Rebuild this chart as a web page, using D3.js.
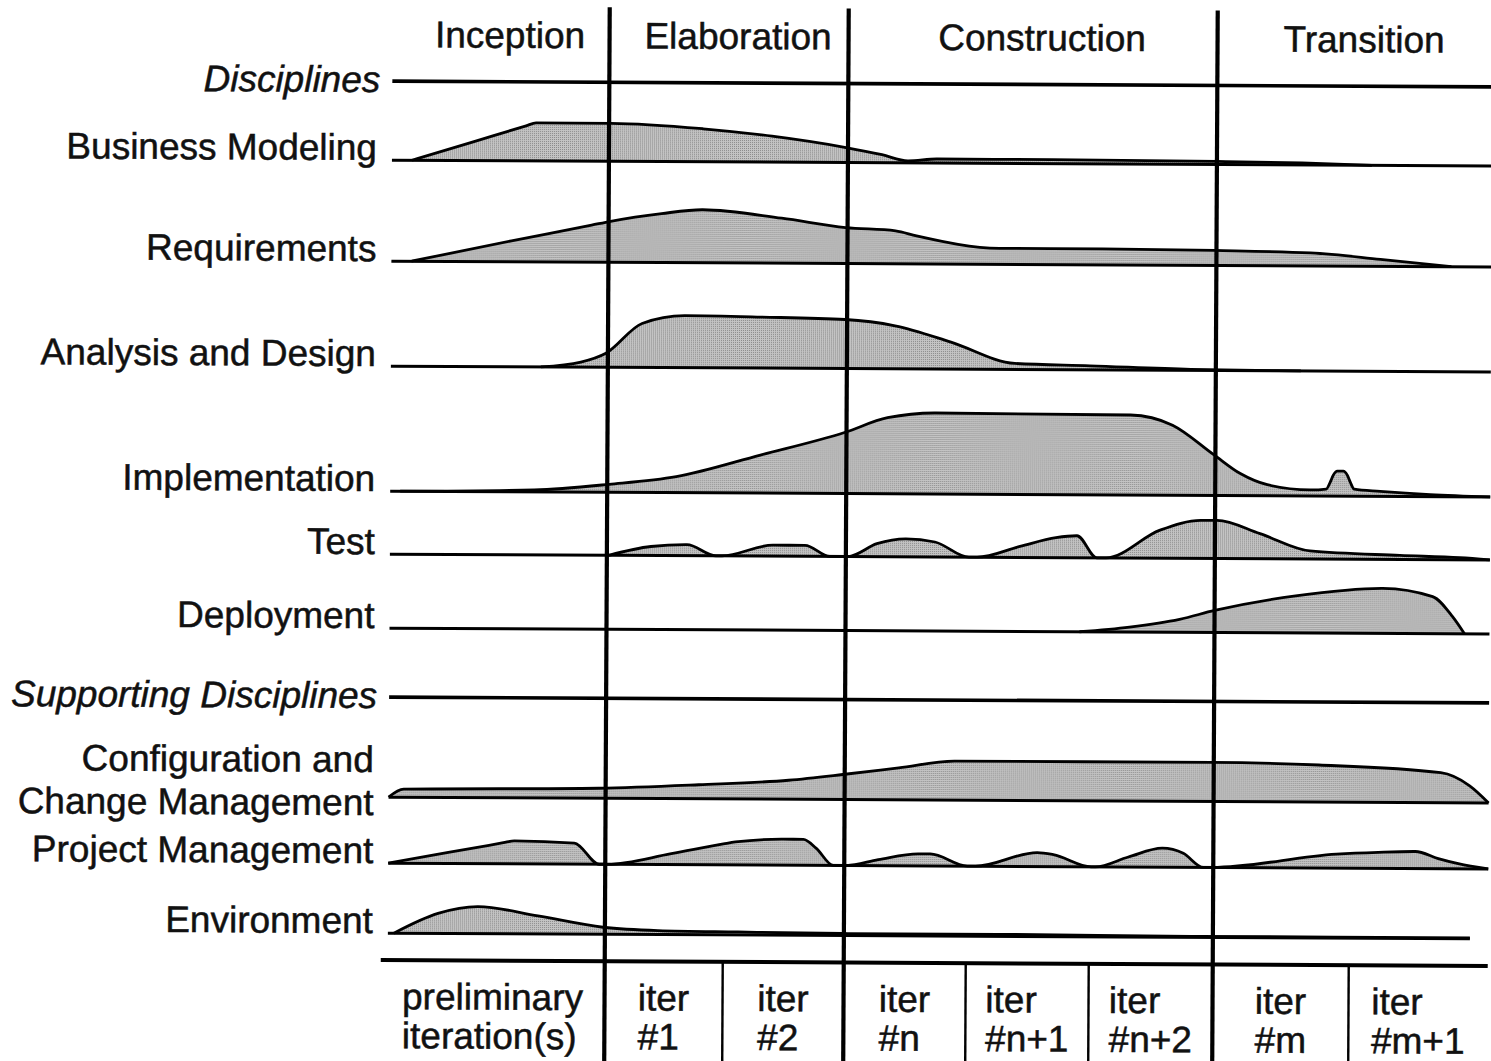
<!DOCTYPE html>
<html>
<head>
<meta charset="utf-8">
<script src="https://cdn.jsdelivr.net/npm/d3@7/dist/d3.min.js"></script>
<style>
  html, body { margin: 0; padding: 0; background: #fff; }
  svg text { font-family: "Liberation Sans", Arial, Helvetica, sans-serif; fill: #111; stroke: #111; stroke-width: 0.5px; }
</style>
</head>
<body>
<div id="chart"></div>
<script>
// phases and iterations along the project time axis (0 .. 1100 time units)
const phases = ["Inception", "Elaboration", "Construction", "Transition"];
const phaseBounds = [0, 217, 456, 825, 1100];

const iterLabels = [
    ["preliminary", "iteration(s)"],
    ["iter", "#1"], ["iter", "#2"],
    ["iter", "#n"], ["iter", "#n+1"], ["iter", "#n+2"],
    ["iter", "#m"], ["iter", "#m+1"]
];
const iterBounds = [-7, 217, 335, 456, 578, 701, 825, 961, 1100];

// effort level per discipline: [time, level]
const bizModeling = [[20,0],[82,19],[134,35],[144,38],[219,38],[311,33],[380,26],[454,15],[490,8],[516,2],[545,4],[660,4],[825,3],[910,2],[980,0]];
const requirements = [[20,0],[120,21],[200,37],[219,41],[270,49],[311,53],[390,45],[454,36],[504,33],[525,28],[608,16],[711,16],[823,15],[919,13],[989,7],[1060,0]];
const analysisDesign = [[150,0],[190,5],[215,14],[251,44],[294,52],[370,51],[454,49],[504,43],[560,27],[624,6],[699,4],[800,1],[910,0]];
const implementation = [[10,0],[144,2],[219,8],[286,16],[370,38],[454,61],[497,76],[545,81],[740,80],[782,70],[823,41],[850,22],[877,11],[920,6],[936,7],[940,14],[943,21],[947,25],[953,25],[957,21],[960,14],[964,7],[990,5],[1040,2],[1100,0]];
const test = [[219,0],[261,9],[297,11],[326,0],[332,0],[383,11],[415,11],[440,0],[458,0],[487,13],[516,18],[545,15],[579,0],[587,0],[630,11],[666,20],[687,22],[707,0],[716,0],[770,28],[811,38],[827,38],[870,25],[920,8],[1010,4],[1070,2],[1100,0]];
const deployment = [[690,0],[740,5],[790,13],[825,22],[906,37],[993,45],[1043,37],[1063,17],[1075,0]];
const configChange = [[0,0],[15,8],[210,10],[310,14],[400,19],[454,25],[510,32],[566,39],[823,39],[930,37],[1052,30],[1081,17],[1100,0]];
const projectMgmt = [[0,0],[60,11],[115,21],[126,23],[186,21],[211,0],[219,0],[283,11],[335,21],[347,23],[395,26],[415,26],[428,17],[445,0],[458,0],[490,6],[530,12],[542,12],[579,0],[587,0],[649,14],[665,12],[703,0],[707,0],[740,10],[774,19],[795,14],[815,0],[823,0],[948,14],[990,16],[1027,17],[1050,10],[1070,5],[1100,0]];
const environment = [[6,0],[50,20],[90,27],[150,18],[215,7],[270,4],[350,3],[460,2],[610,2],[810,1],[1082,1]];

const groupTitles = ["Disciplines", "Supporting Disciplines"];
const rows = [
    {label: ["Business Modeling"], effort: bizModeling},
    {label: ["Requirements"], effort: requirements},
    {label: ["Analysis and Design"], effort: analysisDesign},
    {label: ["Implementation"], effort: implementation},
    {label: ["Test"], effort: test},
    {label: ["Deployment"], effort: deployment},
    {label: ["Configuration and", "Change Management"], effort: configChange},
    {label: ["Project Management"], effort: projectMgmt},
    {label: ["Environment"], effort: environment, end: 1082}
];

// layout
const width = 1491, height = 1061;
const rowBase = [162, 263, 368, 493, 556, 630, 799, 865, 935];
const groupBase = [83, 699];
const bottomY = 962;
const labelRight = 375;
const fontSize = 37;

const x = d3.scaleLinear().domain([0, 1100]).range([390, 1490]);
const level = d3.scaleLinear().domain([0, 100]).range([0, 100]);

const svg = d3.select("#chart")
    .append("svg")
    .attr("width", width)
    .attr("height", height)
    .style("display", "block");

// halftone-ish screen for the humps
const pat = svg.append("defs").append("pattern")
    .attr("id", "screen")
    .attr("patternUnits", "userSpaceOnUse")
    .attr("width", 2).attr("height", 2);
pat.append("rect").attr("width", 2).attr("height", 2).attr("fill", "#c4c4c4");
pat.append("rect").attr("width", 1).attr("height", 1).attr("fill", "#8a8a8a");

// the scanned figure is slightly tilted
const g = svg.append("g").attr("transform", "rotate(0.3,745,530)");

// humps
rows.forEach((r, i) => {
    const base = rowBase[i];
    const area = d3.area()
        .x(d => x(d[0]))
        .y0(base)
        .y1(d => base - level(d[1]))
        .curve(d3.curveMonotoneX);
    const line = d3.line()
        .x(d => x(d[0]))
        .y(d => base - level(d[1]))
        .curve(d3.curveMonotoneX);

    g.append("path")
        .datum(r.effort)
        .attr("d", area)
        .attr("fill", "url(#screen)");
    g.append("path")
        .datum(r.effort)
        .attr("d", line)
        .attr("fill", "none")
        .attr("stroke", "#000")
        .attr("stroke-width", 2.8)
        .attr("stroke-linejoin", "round");

    // baseline
    g.append("line")
        .attr("x1", x(0)).attr("x2", x(r.end || 1100))
        .attr("y1", base).attr("y2", base)
        .attr("stroke", "#000")
        .attr("stroke-width", 3);

    // label, right aligned; two-line labels straddle the baseline
    const n = r.label.length;
    r.label.forEach((t, k) => {
        const ty = n === 1 ? base : (k === 0 ? base - 25 : base + 18);
        g.append("text")
            .attr("x", labelRight)
            .attr("y", ty)
            .attr("text-anchor", "end")
            .style("font-size", fontSize + "px")
            .text(t);
    });
});

// group title lines
groupTitles.forEach((t, i) => {
    g.append("line")
        .attr("x1", x(0)).attr("x2", x(1100))
        .attr("y1", groupBase[i]).attr("y2", groupBase[i])
        .attr("stroke", "#000")
        .attr("stroke-width", 3.6);
    g.append("text")
        .attr("x", labelRight + 3)
        .attr("y", groupBase[i] + 11)
        .attr("text-anchor", "end")
        .style("font-size", fontSize + "px")
        .style("font-style", "italic")
        .text(t);
});

// phase names
phases.forEach((p, i) => {
    g.append("text")
        .attr("x", (x(phaseBounds[i]) + x(phaseBounds[i + 1])) / 2 + 9)
        .attr("y", 49)
        .attr("text-anchor", "middle")
        .style("font-size", fontSize + "px")
        .text(p);
});

// bottom line of the iteration strip
g.append("line")
    .attr("x1", x(-7)).attr("x2", x(1100))
    .attr("y1", bottomY).attr("y2", bottomY)
    .attr("stroke", "#000")
    .attr("stroke-width", 4);

// iteration dividers (thin) that are not phase borders
iterBounds.slice(1, -1)
    .filter(b => !phaseBounds.includes(b))
    .forEach(b => {
        g.append("line")
            .attr("x1", x(b)).attr("x2", x(b))
            .attr("y1", bottomY).attr("y2", height + 10)
            .attr("stroke", "#000")
            .attr("stroke-width", 2.4);
    });

// phase borders
phaseBounds.slice(1, -1).forEach(b => {
    g.append("line")
        .attr("x1", x(b)).attr("x2", x(b))
        .attr("y1", 8).attr("y2", height + 10)
        .attr("stroke", "#000")
        .attr("stroke-width", 4.2);
});

// iteration labels: lines left aligned, block centred in its cell
iterLabels.forEach((lines, i) => {
    const cx = (x(iterBounds[i]) + x(iterBounds[i + 1])) / 2;
    const texts = lines.map((t, k) => g.append("text")
        .attr("y", k === 0 ? 1011 : 1050)
        .style("font-size", fontSize + "px")
        .text(t));
    const w = d3.max(texts, t => t.node().getComputedTextLength());
    texts.forEach(t => t.attr("x", cx - w / 2));
});
</script>
</body>
</html>
